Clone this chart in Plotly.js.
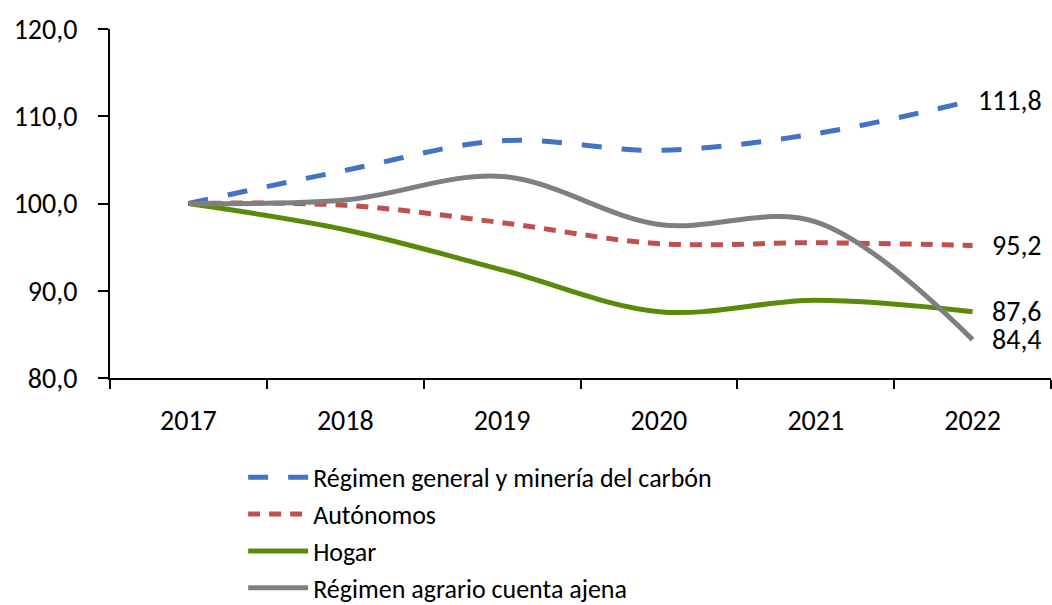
<!DOCTYPE html>
<html>
<head>
<meta charset="utf-8">
<script src="https://cdn.plot.ly/plotly-3.0.1.min.js"></script>
<style>html,body{margin:0;padding:0;background:#fff;}#chart{width:1052px;height:605px;}</style>
</head>
<body>
<div id="chart"></div>
<script>
const years = ['2017','2018','2019','2020','2021','2022'];
const seriesNames = ['Régimen general y minería del carbón','Autónomos','Hogar','Régimen agrario cuenta ajena'];
const regimenGeneral = [100.0, 103.8, 107.2, 106.1, 108.0, 111.8];
const autonomos      = [100.0,  99.8,  97.8,  95.4,  95.5,  95.2];
const hogar          = [100.0,  97.0,  92.4,  87.6,  88.9,  87.6];
const agrario        = [100.0, 100.4, 103.1,  97.6,  97.9,  84.4];
const yTicks = [80, 90, 100, 110, 120];

const FONT = 'Carlito, Lato, "Open Sans", sans-serif';
const seriesData = [regimenGeneral, autonomos, hogar, agrario];
const styles = [
  {color:'#4472C4', dash:'20px,20px'},
  {color:'#C0504D', dash:'12px,9px'},
  {color:'#5B8A0A', dash:'solid'},
  {color:'#7F7F7F', dash:'solid'}
];

const traces = seriesData.map((vals, i) => ({
  type:'scatter', mode:'lines', x: years, y: vals, name: seriesNames[i],
  line:{color:styles[i].color, width:5, dash:styles[i].dash, shape:'spline', smoothing:1},
  hoverinfo:'skip'
}));

const fmt = v => v.toFixed(1).replace('.', ',');
const annotations = seriesData.map(vals => ({
  x: years.length - 1, y: vals[vals.length-1], xref:'x', yref:'y',
  text: fmt(vals[vals.length-1]), showarrow:false, xanchor:'right', yanchor:'middle',
  xshift: 71, font:{family:FONT, size:28, color:'#000'}
}));

const layout = {
  width:1052, height:605,
  margin:{l:110, r:1, t:29, b:227, autoexpand:false},
  paper_bgcolor:'#fff', plot_bgcolor:'#fff',
  separators:',.',
  font:{family:FONT, size:28, color:'#000'},
  showlegend:true,
  legend:{x:0.1415, y:-0.2175, xanchor:'left', yanchor:'top', orientation:'v',
          font:{family:FONT, size:26, color:'#000'}, itemwidth:60, tracegroupgap:0,
          bgcolor:'rgba(0,0,0,0)'},
  xaxis:{type:'category', range:[-0.5, 5.5], tickson:'boundaries', ticks:'outside', ticklen:9,
         tickwidth:2, tickcolor:'#000', showline:true, linecolor:'#000', linewidth:2,
         showgrid:false, zeroline:false, fixedrange:true, ticklabelstandoff:16,
         tickfont:{family:FONT, size:28, color:'#000'}},
  yaxis:{range:[80,120], tickvals:yTicks, tickformat:'.1f', ticks:'outside', ticklen:10,
         tickwidth:2, tickcolor:'#000', showline:true, linecolor:'#000', linewidth:2,
         showgrid:false, zeroline:false, fixedrange:true, ticklabelstandoff:15,
         tickfont:{family:FONT, size:28, color:'#000'}},
  annotations: annotations
};

Plotly.newPlot('chart', traces, layout, {displayModeBar:false, staticPlot:true});
</script>
</body>
</html>
